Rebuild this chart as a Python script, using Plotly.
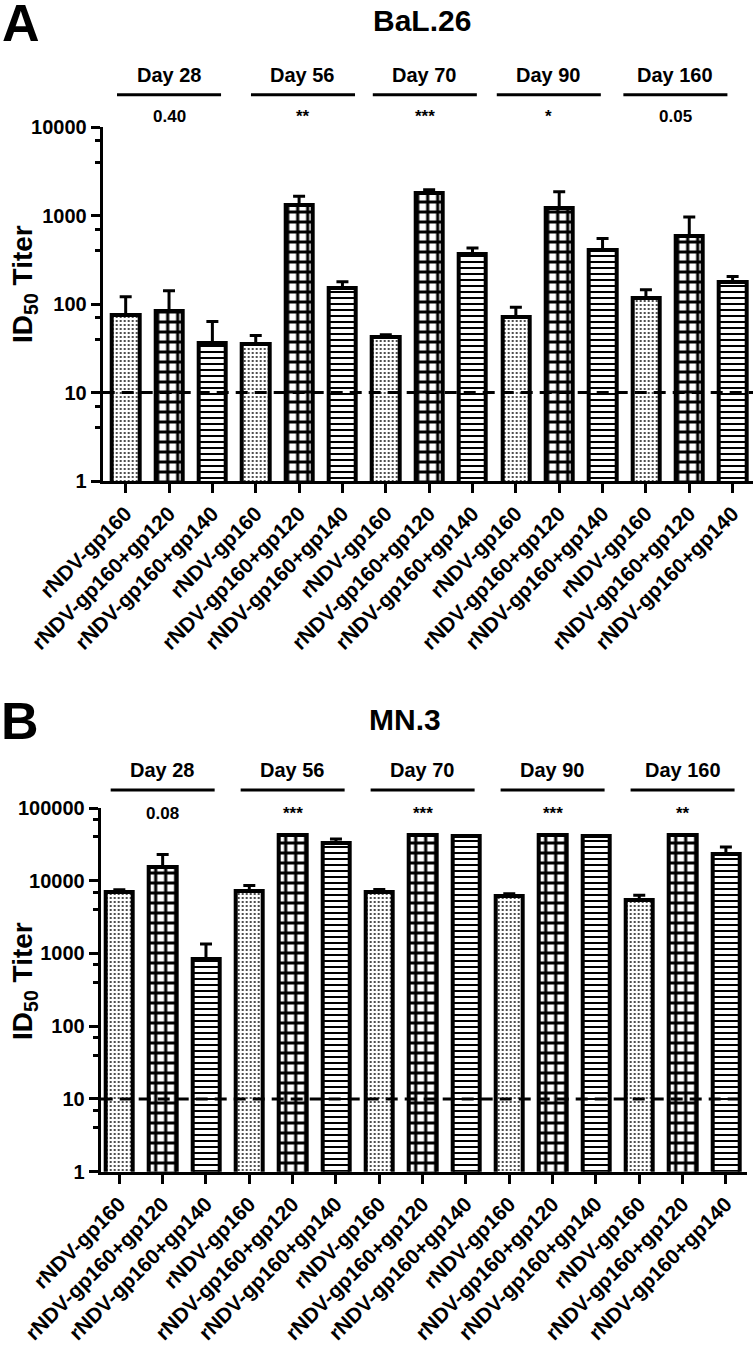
import numpy as np
import plotly.graph_objects as go

# ---------------- data ----------------
days = ["Day 28", "Day 56", "Day 70", "Day 90", "Day 160"]
vaccines = ["rNDV-gp160", "rNDV-gp160+gp120", "rNDV-gp160+gp140"]

# Panel A: BaL.26 (ID50 titer mean, upper SEM)
bal_gp160 = [76, 35, 42, 72, 118]
bal_gp160_err = [45, 9, 3, 20, 27]
bal_gp120 = [84, 1300, 1800, 1200, 580]
bal_gp120_err = [57, 350, 150, 650, 380]
bal_gp140 = [36.5, 150, 370, 410, 178]
bal_gp140_err = [27, 28, 60, 140, 27]
bal_sig = ["0.40", "**", "***", "*", "0.05"]

# Panel B: MN.3
mn_gp160 = [6900, 7300, 7000, 6200, 5500]
mn_gp160_err = [600, 1300, 600, 400, 800]
mn_gp120 = [15500, 42500, 42500, 42500, 42500]
mn_gp120_err = [7500, 0, 0, 0, 0]
mn_gp140 = [850, 33000, 41000, 41000, 23000]
mn_gp140_err = [500, 4500, 0, 0, 6000]
mn_sig = ["0.08", "***", "***", "***", "**"]

detection_limit = 10

# ---------------- styling ----------------
FONT = "Liberation Sans, Arial, sans-serif"
W, H = 755, 1345

def py(px):  # pixel y -> paper y
    return 1 - px / H

def pxx(px):
    return px / W

patterns = [
    dict(shape=".", fgcolor="#222", bgcolor="white", size=4, solidity=0.22, fillmode="replace"),
    dict(shape="+", fgcolor="black", bgcolor="white", size=10, solidity=0.52, fillmode="replace"),
    dict(shape="-", fgcolor="black", bgcolor="white", size=6, solidity=0.33, fillmode="replace"),
]

rangeA = [-0.53, 14.47]
rangeB = [-0.43, 14.48]

fig = go.Figure()

panels = [
    dict(xa="x", ya="y", rng=rangeA,
         series=[(bal_gp160, bal_gp160_err), (bal_gp120, bal_gp120_err), (bal_gp140, bal_gp140_err)]),
    dict(xa="x2", ya="y2", rng=rangeB,
         series=[(mn_gp160, mn_gp160_err), (mn_gp120, mn_gp120_err), (mn_gp140, mn_gp140_err)]),
]

for p in panels:
    for k, (vals, errs) in enumerate(p["series"]):
        xs = [g * 3 + k for g in range(len(days))]
        fig.add_trace(go.Bar(
            x=xs, y=vals, xaxis=p["xa"], yaxis=p["ya"], width=0.63,
            marker=dict(color="white", line=dict(color="black", width=4), pattern=patterns[k]),
            error_y=dict(type="data", symmetric=False, array=errs, arrayminus=[0] * len(errs),
                         color="black", thickness=3, width=6),
            showlegend=False, name=vaccines[k],
        ))
    # detection-limit dashed line across the full axis
    fig.add_trace(go.Scatter(
        x=p["rng"], y=[detection_limit, detection_limit], xaxis=p["xa"], yaxis=p["ya"],
        mode="lines", line=dict(color="black", width=3, dash="12px,7px"),
        showlegend=False, hoverinfo="skip", cliponaxis=False,
    ))

ticktext = vaccines * len(days)
tickvals = list(range(len(ticktext)))

common_x = dict(
    tickmode="array", tickvals=tickvals, ticktext=ticktext, tickangle=-45,
    showline=True, linecolor="black", linewidth=3, ticks="outside", ticklen=9, tickwidth=2.5,
    tickcolor="black", showgrid=False, zeroline=False, automargin=False,
    tickfont=dict(family=FONT, size=21, color="black", weight="bold"),
)

def minor_vals(nd):
    v = []
    for e in range(nd):
        v += [4 * 10 ** e, 7 * 10 ** e]
    return v

def y_axis(nd, domain, anchor):
    return dict(
        type="log", range=[0, nd], domain=domain, anchor=anchor, automargin=False,
        tickmode="array", tickvals=[10 ** e for e in range(nd + 1)],
        ticktext=[str(10 ** e) for e in range(nd + 1)],
        showline=True, linecolor="black", linewidth=3, ticks="outside", ticklen=9, tickwidth=2.5,
        tickcolor="black", showgrid=False, zeroline=False,
        minor=dict(tickmode="array", tickvals=minor_vals(nd), ticks="outside", ticklen=5,
                   tickwidth=2.5, tickcolor="black", showgrid=False),
        tickfont=dict(family=FONT, size=20, color="black", weight="bold"),
    )

fig.update_layout(
    width=W, height=H, autosize=False,
    margin=dict(l=0, r=0, t=0, b=0, pad=0),
    paper_bgcolor="white", plot_bgcolor="white",
    bargap=0, barmode="overlay",
    xaxis=dict(common_x, domain=[pxx(102.7), pxx(753)], range=rangeA, anchor="y"),
    yaxis=y_axis(4, [py(481), py(127)], "x"),
    xaxis2=dict(common_x, domain=[pxx(100.7), pxx(746.7)], range=rangeB, anchor="y2"),
    yaxis2=y_axis(5, [py(1171.7), py(808)], "x2"),
)

annos = []
# panel letters & titles
annos.append(dict(text="<b>A</b>", x=pxx(21), y=py(23), font=dict(size=52)))
annos.append(dict(text="<b>BaL.26</b>", x=pxx(422), y=py(20), font=dict(size=30)))
annos.append(dict(text="<b>B</b>", x=pxx(20), y=py(721), font=dict(size=52)))
annos.append(dict(text="<b>MN.3</b>", x=pxx(405), y=py(719), font=dict(size=30)))
# y titles
annos.append(dict(text="<b>ID<sub>50</sub> Titer</b>", x=pxx(24), y=py(284), textangle=-90, font=dict(size=28)))
annos.append(dict(text="<b>ID<sub>50</sub> Titer</b>", x=pxx(24), y=py(981), textangle=-90, font=dict(size=28)))

for a in annos:
    a.update(xref="paper", yref="paper", showarrow=False, xanchor="center", yanchor="middle")
    a["font"].update(family=FONT, color="black")
    fig.add_annotation(**a)

# day headers
headerA_x = [1.0, 4.09, 6.90, 9.76, 12.68]
headerB_x = [g * 3 + 1 for g in range(len(days))]
half = 1.2
for xa, hx, sig, y_day, y_line, y_sig in [
    ("x", headerA_x, bal_sig, 75, 94.7, 117),
    ("x2", headerB_x, mn_sig, 770, 790, 813),
]:
    for d, cx, s in zip(days, hx, sig):
        fig.add_annotation(text=f"<b>{d}</b>", xref=xa, yref="paper", x=cx, y=py(y_day),
                           xanchor="center", yanchor="middle",
                           showarrow=False, font=dict(family=FONT, size=20, color="black"))
        fig.add_shape(type="line", xref=xa, yref="paper", x0=cx - half, x1=cx + half,
                      y0=py(y_line), y1=py(y_line), line=dict(color="black", width=3))
        fig.add_annotation(text=f"<b>{s}</b>", xref=xa, yref="paper", x=cx, y=py(y_sig),
                           xanchor="center", yanchor="middle",
                           showarrow=False, font=dict(family=FONT, size=17, color="black"))

fig.write_html("out.html", config={"displayModeBar": False},
               post_script="document.body.style.margin='0';")
